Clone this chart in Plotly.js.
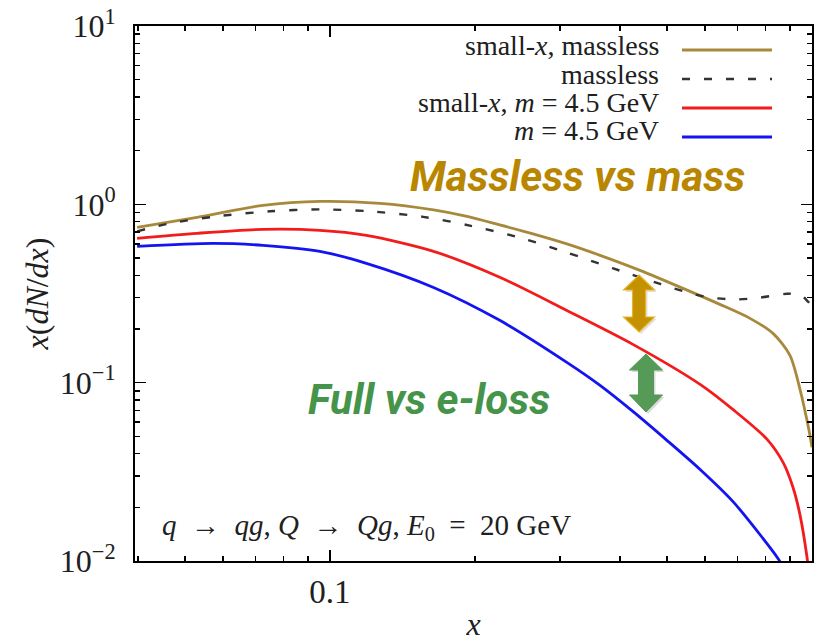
<!DOCTYPE html>
<html>
<head>
<meta charset="utf-8">
<script src="https://cdn.plot.ly/plotly-3.0.1.min.js"></script>
<style>
  html, body { margin: 0; padding: 0; background: #ffffff; }
  #chart { width: 815px; height: 642px; }
</style>
</head>
<body>
<div id="chart"></div>
<script>
// ---- data ----
const seriesNames = ["small-<i>x</i>, massless", "massless", "small-<i>x</i>, <i>m</i> = 4.5 GeV", "<i>m</i> = 4.5 GeV"];

const xGold = [0.0398, 0.053, 0.0726, 0.0953, 0.127, 0.164, 0.1924, 0.225, 0.2637, 0.31, 0.3633, 0.4395, 0.540, 0.644, 0.7436, 0.830, 0.900, 0.944, 0.9858, 1.0];
const yGold = [0.743, 0.846, 0.987, 1.039, 1.013, 0.931, 0.856, 0.767, 0.683, 0.600, 0.5176, 0.4265, 0.338, 0.2749, 0.2294, 0.189, 0.1423, 0.0920, 0.054, 0.0434];

const xDash = [0.0398, 0.0466, 0.0583, 0.0751, 0.0953, 0.121, 0.156, 0.195, 0.248, 0.31, 0.387, 0.484, 0.551, 0.614, 0.699, 0.78, 0.887, 0.944, 0.981, 1.0];
const yDash = [0.706, 0.782, 0.857, 0.914, 0.937, 0.914, 0.851, 0.76, 0.650, 0.537, 0.437, 0.358, 0.321, 0.30, 0.293, 0.30, 0.315, 0.312, 0.285, 0.27];

const xRed = [0.0398, 0.053, 0.0726, 0.0953, 0.119, 0.164, 0.225, 0.31, 0.425, 0.586, 0.685, 0.807, 0.871, 0.913, 0.944, 0.976, 1.0];
const yRed = [0.645, 0.688, 0.724, 0.715, 0.670, 0.545, 0.390, 0.254, 0.164, 0.0978, 0.0708, 0.0481, 0.0357, 0.0259, 0.0182, 0.0106, 0.006];

const xBlue = [0.0398, 0.0572, 0.0726, 0.0953, 0.119, 0.164, 0.225, 0.31, 0.3633, 0.425, 0.500, 0.586, 0.685, 0.791, 0.850, 0.900];
const yBlue = [0.581, 0.604, 0.589, 0.545, 0.467, 0.342, 0.2236, 0.130, 0.0966, 0.0690, 0.0475, 0.0326, 0.0216, 0.0134, 0.01034, 0.00799];

const xTickVals = [0.1, 1];
const xTickText = ["0.1", "1"];
const xMinorVals = [0.04, 0.05, 0.06, 0.07, 0.08, 0.09, 0.2, 0.3, 0.4, 0.5, 0.6, 0.7, 0.8, 0.9];
const yTickVals = [0.01, 0.1, 1, 10];
const yTickText = ["10<sup>−2</sup>", "10<sup>−1</sup>", "10<sup>0</sup>", "10<sup>1</sup>"];
const yMinorVals = [0.02,0.03,0.04,0.05,0.06,0.07,0.08,0.09,0.2,0.3,0.4,0.5,0.6,0.7,0.8,0.9,2,3,4,5,6,7,8,9];

// ---- styles ----
const cGold = "#a8893c", cDash = "#333333", cRed = "#f21c1c", cBlue = "#1414f0";
const serif = "Liberation Serif, Times New Roman, serif";
const callout = "Roboto, Open Sans, sans-serif";
const txt = "#202020";
const W = 815, H = 642, L = 135, R = 812, T = 26, B = 561;
const px = v => (v - L) / (R - L);
const py = v => (B - v) / (B - T);

function dblArrow(cx, yTop, yHeadTop, yHeadBot, yBot, hw, sw) {
  const p = [
    [cx, yTop], [cx + hw, yHeadTop], [cx + sw, yHeadTop], [cx + sw, yHeadBot],
    [cx + hw, yHeadBot], [cx, yBot], [cx - hw, yHeadBot], [cx - sw, yHeadBot],
    [cx - sw, yHeadTop], [cx - hw, yHeadTop]
  ];
  return "M" + p.map(q => px(q[0]).toFixed(4) + "," + py(q[1]).toFixed(4)).join(" L") + " Z";
}

const lineBase = { width: 2.8, shape: "spline", smoothing: 0.8 };
const traces = [
  { x: xGold, y: yGold, name: seriesNames[0], mode: "lines", line: Object.assign({ color: cGold }, lineBase) },
  { x: xDash, y: yDash, name: seriesNames[1], mode: "lines", line: Object.assign({ color: cDash, dash: "8px,14px" }, lineBase, { width: 2.4 }) },
  { x: xRed, y: yRed, name: seriesNames[2], mode: "lines", line: Object.assign({ color: cRed }, lineBase) },
  { x: xBlue, y: yBlue, name: seriesNames[3], mode: "lines", line: Object.assign({ color: cBlue }, lineBase) }
];

// manual legend (text right-aligned, line sample to its right, as in the reference)
const legBottoms = [63, 92, 120, 148];
const legLines = [50, 79, 108, 137];
const legCols = [cGold, cDash, cRed, cBlue];
const annotations = [];
const shapes = [];
legBottoms.forEach((yy, i) => {
  annotations.push({ xref: "paper", yref: "paper", x: px(661), y: py(yy), xanchor: "right", yanchor: "bottom",
    text: seriesNames[i], showarrow: false, font: { family: serif, size: 28, color: txt } });
  shapes.push({ type: "line", xref: "paper", yref: "paper", x0: px(682), x1: px(772), y0: py(legLines[i]), y1: py(legLines[i]),
    line: { color: legCols[i], width: i === 1 ? 2.4 : 2.8, dash: i === 1 ? "8px,14px" : "solid" } });
});

annotations.push({ xref: "paper", yref: "paper", x: px(577), y: py(150), xanchor: "center", yanchor: "top",
  text: "<b><i>Massless vs mass</i></b>", showarrow: false, font: { family: callout, size: 42, color: "#b88600" } });
annotations.push({ xref: "paper", yref: "paper", x: px(429), y: py(400), xanchor: "center", yanchor: "middle",
  text: "<b><i>Full vs e-loss</i></b>", showarrow: false, font: { family: callout, size: 42, color: "#45944a" } });
annotations.push({ xref: "paper", yref: "paper", x: px(160), y: py(527), xanchor: "left", yanchor: "middle",
  text: "<i>q</i>&nbsp; →&nbsp; <i>qg</i>, <i>Q</i>&nbsp; →&nbsp; <i>Qg</i>, <i>E</i><sub>0</sub>&nbsp; =&nbsp; 20 GeV", showarrow: false,
  font: { family: serif, size: 29, color: txt } });

// double-headed arrows (decoration)
shapes.push({ type: "path", xref: "paper", yref: "paper", path: dblArrow(641, 277, 292, 319, 334, 15.5, 6.5),
  fillcolor: "rgba(0,0,0,0.12)", line: { width: 0 } });
shapes.push({ type: "path", xref: "paper", yref: "paper", path: dblArrow(639, 275, 290, 317, 332, 15.5, 6.5),
  fillcolor: "#c49200", line: { color: "#e6b42a", width: 1.2 } });
shapes.push({ type: "path", xref: "paper", yref: "paper", path: dblArrow(648, 356, 372, 397, 414, 16.5, 7.5),
  fillcolor: "rgba(0,0,0,0.15)", line: { width: 0 } });
shapes.push({ type: "path", xref: "paper", yref: "paper", path: dblArrow(646, 354, 370, 395, 412, 16.5, 7.5),
  fillcolor: "#559b57", line: { color: "#559b57", width: 1 } });

const layout = {
  width: W, height: H,
  margin: { l: L, r: W - R, t: T, b: H - B, pad: 0 },
  paper_bgcolor: "#ffffff", plot_bgcolor: "#ffffff",
  showlegend: false,
  font: { family: serif, color: txt },
  xaxis: {
    type: "log", range: [Math.log10(0.0394), 0], showgrid: false, zeroline: false,
    showline: true, linecolor: "#000", linewidth: 2, mirror: "ticks",
    ticks: "inside", ticklen: 11, tickwidth: 1.5, tickcolor: "#000",
    tickmode: "array", tickvals: xTickVals, ticktext: xTickText,
    tickfont: { family: serif, size: 33, color: txt },
    minor: { tickmode: "array", tickvals: xMinorVals, ticks: "inside", ticklen: 5, tickwidth: 1.5, tickcolor: "#000", showgrid: false },
    title: { text: "<i>x</i>", font: { family: serif, size: 32, color: txt }, standoff: 8 },
    automargin: false
  },
  yaxis: {
    type: "log", range: [-2, 1], showgrid: false, zeroline: false,
    showline: true, linecolor: "#000", linewidth: 2, mirror: "ticks",
    ticks: "inside", ticklen: 11, tickwidth: 1.5, tickcolor: "#000",
    tickmode: "array", tickvals: yTickVals, ticktext: yTickText,
    tickfont: { family: serif, size: 32, color: txt },
    ticklabelstandoff: 11,
    minor: { tickmode: "array", tickvals: yMinorVals, ticks: "inside", ticklen: 5, tickwidth: 1.5, tickcolor: "#000", showgrid: false },
    title: { text: "<i>x</i>(<i>dN</i>/<i>dx</i>)", font: { family: serif, size: 32, color: txt }, standoff: 2 },
    automargin: false
  },
  annotations: annotations,
  shapes: shapes
};

Plotly.newPlot("chart", traces, layout, { displayModeBar: false, staticPlot: true });
</script>
</body>
</html>
